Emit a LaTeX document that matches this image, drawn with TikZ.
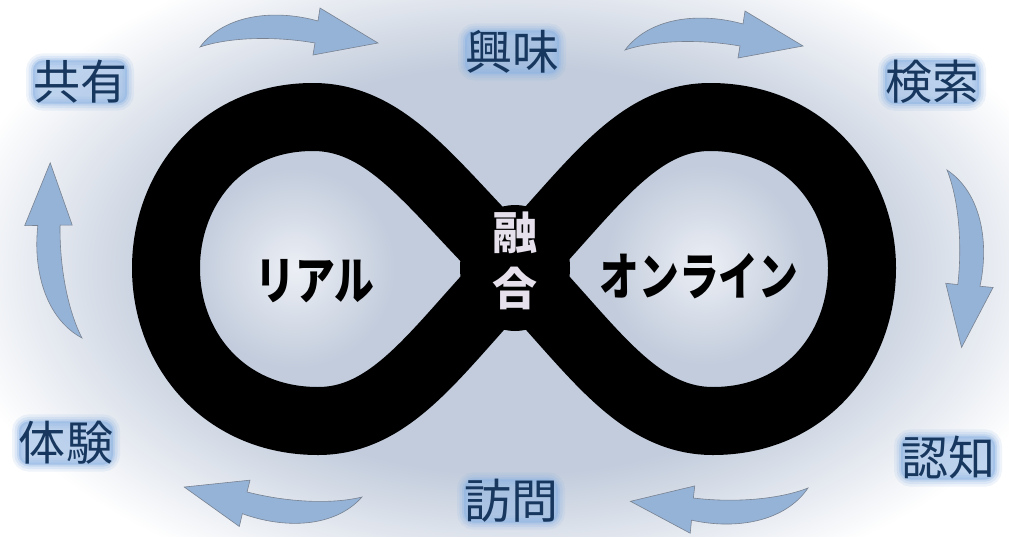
\documentclass[tikz,border=0pt]{standalone}
\usepackage{fontspec}
\newfontfamily\jpfont{Noto Sans CJK JP}
\newfontfamily\jpnarrow[FakeStretch=0.78]{Noto Sans CJK JP}

\definecolor{haloc}{RGB}{194,204,220}
\definecolor{hilite}{RGB}{236,239,245}
\definecolor{arrowc}{RGB}{149,179,215}
\definecolor{arrowline}{RGB}{120,130,145}
\definecolor{navy}{RGB}{23,55,94}
\definecolor{glow}{RGB}{142,180,227}
\definecolor{lavender}{RGB}{230,224,236}

\pgfdeclareradialshading{halo}{\pgfpointorigin}{rgb(0bp)=(0.761,0.8,0.863); rgb(15bp)=(0.761,0.8,0.863); rgb(25bp)=(1,1,1); rgb(50bp)=(1,1,1)}

\tikzset{
  cyclearrow/.pic={
    \filldraw[fill=arrowc, draw=arrowline, line width=.6pt]
      (0,0) .. controls (25,-33) and (75,-38) .. (118,-26) -- (120,-39) -- (178,-4)
      -- (113,8) -- (115,-4) .. controls (75,-11) and (30,-10) .. (0,0) -- cycle;
  },
  stage/.style={font=\jpfont\fontsize{47}{47}\selectfont, text=navy, inner sep=0pt,
    rounded corners=10pt, fill=glow, fill opacity=.35, text opacity=1,
    preaction={fill=glow, draw=glow, line width=14pt, opacity=.14},
    preaction={fill=glow, draw=glow, line width=9pt, opacity=.2},
    preaction={draw=glow, line width=4pt, opacity=.3}},
  side/.style={font=\jpnarrow\bfseries\fontsize{51}{51}\selectfont, text=black, inner sep=0pt},
  fusion/.style={font=\jpfont\bfseries\fontsize{45}{56}\selectfont, text=lavender, align=center, inner sep=0pt}
}

\begin{document}
\begin{tikzpicture}[x=1pt, y=-1pt, loop8/.style={draw=black, line width=68pt, line join=round}]
  \useasboundingbox (0,0) rectangle (1009,536);
  \fill[white] (0,0) rectangle (1009,536);

  % Background halo
  \shade[shading=halo] (512,270) ellipse [x radius=570, y radius=340];
  \shade[inner color=hilite, outer color=haloc] (295,268) circle (100);
  \shade[inner color=hilite, outer color=haloc] (705,265) circle (100);

  % Figure eight
  \draw[loop8] (515,268) .. controls (435,190) and (390,117) .. (313,117)
    .. controls (220,117) and (166,190) .. (166,268)
    .. controls (166,350) and (225,421) .. (318,421)
    .. controls (395,421) and (440,345) .. (515,268)
    .. controls (590,190) and (635,117) .. (710,117)
    .. controls (805,117) and (862,190) .. (862,268)
    .. controls (862,350) and (805,421) .. (713,421)
    .. controls (635,421) and (590,345) .. (515,268) -- cycle;
  \fill (515,268) ellipse [x radius=55, y radius=63];

  \node[fusion] (fusion) at (515,261) {融\\合};
  \node[side] (real) at (315,281) {リアル};
  \node[side] (online) at (699,276) {オンライン};

  % Cycle arrows
  \foreach \x/\y/\r in {200/47/0, 625/50/0, 947/170/-86.6, 808/488/183, 362/497/175.5, 82/338/99}
    \pic[rotate=\r] at (\x,\y) {cyclearrow};

  % Stages
  \foreach \name/\x/\y/\txt in {share/80/82/共有, interest/512/52/興味, search/932/82/検索,
      aware/948/458/認知, visit/511/501/訪問, experience/66/443/体験}
    \node[stage] (\name) at (\x,\y) {\txt};
\end{tikzpicture}
\end{document}
